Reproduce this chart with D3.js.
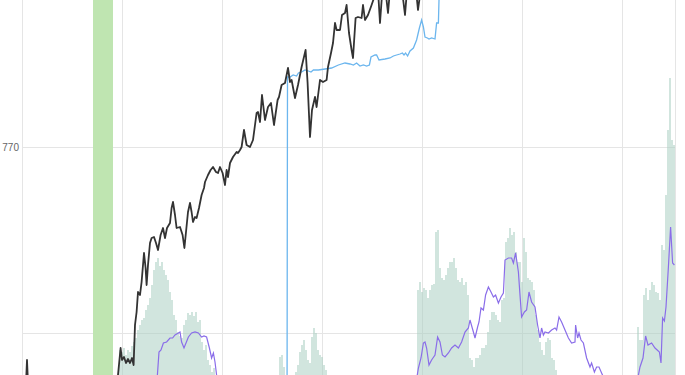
<!DOCTYPE html>
<html>
<head>
<meta charset="utf-8">
<script src="https://cdn.jsdelivr.net/npm/d3@7"></script>
<style>
  html, body { margin: 0; padding: 0; background: #fff; }
  svg { display: block; font-family: "Liberation Sans", Arial, sans-serif; }
</style>
</head>
<body>
<svg id="chart" width="685" height="375"></svg>
<script>
// x values are trading-day indexes

// closing price [day, price]
const priceLine = [
  [-11,640],[1.5,640],[2.5,663.5],[3.5,640],[47,640],[48,656],[49.3,669.5],[50,663.5],[51,665],[52,662],
  [53,664],[54,662],[55,664.5],[55.8,661],[56.5,681],[57.3,687.5],[58,697.5],[59,696],[59.8,702.5],[61,717],
  [61.8,709.5],[62.3,701],[63,711],[64,722],[64.8,724.5],[66,725],[67,722],[68,718.5],[69.3,726],[70.5,729.5],
  [71.5,724.5],[72.5,729.5],[74,732],[74.8,739.5],[75.5,742.5],[76.5,736],[77.3,729.5],[79,730],[80.3,726],
  [81.2,719.5],[82,727.5],[83,737.5],[84,742],[84.8,737.5],[85.5,732.5],[86.5,735],[87.3,734.5],[88.5,739.5],
  [89.8,746],[91,749.5],[91.5,752.5],[93,756],[94.3,758.5],[95.5,760],[97,757.5],[98,757],[99,760],[100.3,757],
  [101.5,751],[102.3,758.5],[103,755],[104,762],[105.5,765],[107.3,767.5],[108,767],[109,768.5],[109.8,770],
  [111,778.5],[112.3,771],[114,770],[115.5,773.5],[117.3,787],[118,787.5],[119,782.5],[120,796],[121.5,783.5],
  [123,790],[124.5,792],[126,781],[127.8,793.5],[128.5,795],[129.8,801],[131.5,802],[133,809.5],[134,802.5],
  [134.8,803.5],[136.5,794.5],[138,801],[139.8,810],[141.8,818.5],[142.8,802],[144,775],[145,788.5],[146.5,795],
  [147.3,790],[149,803.5],[150.5,802.5],[152.3,803.5],[153,810],[154.5,817],[155.5,822],[156.5,832],[157.3,828.5],
  [159,828.5],[160,836],[161.5,837],[162.3,841],[163.5,827],[164.8,818.5],[165.5,814.5],[166.8,834.5],[168,835],
  [169.8,834.5],[170.5,841],[171.5,833.5],[173,836],[174.8,841],[176.5,846],[178,848.5],[179,832],[180,846],
  [182,846],[183,837],[184,848.5],[190,848.5],[191.5,836],[192.5,848.5],[197,848.5],[198,838.5],[199,846]
];

// running high [day, price]
const highLine = [
  [132.5,630],[132.75,805],[134,805],[135.6,806],[137.3,805.5],[138.2,807],[139.8,807.5],[141.5,808.5],
  [143.2,808],[144.5,807.5],[145.7,808.5],[148.2,808.5],[151.5,809],[154.8,809.5],[158.2,811],[161.5,812],
  [164,811.5],[165.7,811],[167.3,812],[169,810.5],[170.7,811],[172.3,810.5],[173.7,811],[174.5,815],[176.5,816],
  [177.3,816],[178.5,813.5],[181.5,814],[184,814.5],[185.7,815.5],[187.3,816],[189,816.5],[190.2,817],[191,816],
  [191.8,817],[192.8,815.5],[194,818],[195.7,819.5],[197.3,823.5],[198.7,829.5],[199.8,833.5],[200.7,830],
  [201.5,825],[202.7,824.5],[203.5,824],[204.8,824.5],[206.5,824],[207.3,832],[208.2,832],[208.5,843.5],[209,858.5]
];

// oscillator [day, value]
const oscLine = [
  [64,-20],[67.7,25],[68.5,48],[69.5,50],[70.7,57],[72.3,58],[74,62],[75.3,62],[76.5,65],[78.2,67],[79,68],
  [79.8,58],[81,52],[82,57],[83.2,63],[84.8,67],[86.5,68],[88.2,67],[89.8,63],[91,64],[92.3,63],[93.7,52],
  [94.8,42],[95.7,47],[96.5,38],[97.3,25],[99,-20],
  [194,-20],[198.2,32],[199.5,42],[200.7,57],[201.5,58],[202.3,52],[203.5,35],[204.8,40],[206.5,45],[207.8,63],
  [209,58],[210.2,45],[211.5,43],[213.2,47],[214.8,52],[216.5,55],[218.2,52],[219.8,58],[221.5,68],[223.2,72],
  [224,80],[225.7,68],[226.5,62],[227.8,73],[228.5,78],[229.5,92],[230.7,90],[231.8,105],[233.2,113],[234.5,108],
  [235.7,103],[236.8,105],[238.2,97],[239.5,103],[240.7,107],[241.5,140],[243.2,142],[244.8,142],[245.7,137],
  [246.8,147],[248.2,128],[249,105],[249.8,83],[251.2,88],[252.3,90],[253.5,108],[254.8,98],[256.5,93],
  [257.8,75],[259,62],[259.8,72],[260.7,65],[261.5,68],[263.2,67],[264.8,70],[266.5,72],[267.3,70],[268.5,83],
  [269.8,78],[271.5,70],[273.2,62],[274.8,57],[276.5,58],[276.8,75],[277.8,62],[278.5,67],[279.5,60],[280.7,57],
  [282.3,42],[284,33],[284.8,37],[286.2,28],[287.3,33],[288.5,33],[289.8,27],[290.7,23],[293,-20],
  [304,-20],[308.2,25],[309,33],[310.5,42],[311.8,64],[313,55],[314.8,57],[316.5,52],[318.7,48],[319.5,37],
  [320.3,82],[321.2,79],[322,93],[323.2,133],[324.3,173],[325.3,137],[326.2,135]
];

// daily volume, one value per day from the start day
const volStart1 = 49;
const volume1 = [33,31,35,28,33,31,37,41,45,53,58,63,65,73,78,85,98,113,121,125,117,121,113,108,103,91,83,68,63,
  51,47,45,58,63,70,68,71,67,71,61,63,41,33,38,23,18,11,15,8];
const volStart2 = 129;
const volume2 = [26,28,16,8,0,0,0,0,11,18,31,38,43,33,23,20,46,55,50,33,28,26,18,13];
const volStart3 = 198;
const volume3 = [93,101,91,95,93,85,93,98,99,151,153,115,105,103,108,115,121,121,125,115,103,101,105,98,101,88,
  25,23,16,25,25,28,35,35,38,51,63,71,71,68,63,61,83,85,141,145,155,148,151,131,121,121,101,145,131,105,103,101,
  93,68,53,41,33,28,41,45,43,25,23,13,8];
const volStart4 = 308;
const volume4 = [56,43,43,88,95,83,93,101,98,91,90,83,138,133,188,253,305,243,238];

// shaded period [first day, last day]
const highlightDays = [36, 45];

const priceTicks = [770];
const volumeTicks = [50];
const dayTicks = [0, 50, 100, 150, 200, 250, 300];

const width = 685, height = 375;
const left = 22, right = 675;

const svg = d3.select('#chart');

const x = d3.scaleLinear().domain([0, 300]).range([left, 622]);
const yPrice = d3.scaleLinear().domain([656, 843.5]).range([height, 0]);
const yVol = d3.scaleLinear().domain([0, 383]).range([383, 0]);
const yOsc = d3.scaleLinear().domain([0, 400]).range([400, 0]);

svg.append('defs').append('clipPath').attr('id', 'plot')
  .append('rect').attr('x', left).attr('y', 0).attr('width', right - left).attr('height', height);

// grid
const grid = svg.append('g').attr('stroke', '#e5e5e5').attr('stroke-width', 1);
grid.selectAll('line.v').data(dayTicks.map(x).concat([right]))
  .join('line').attr('class', 'v')
  .attr('x1', d => Math.round(d) + 0.5).attr('x2', d => Math.round(d) + 0.5)
  .attr('y1', 0).attr('y2', height);
grid.selectAll('line.h').data(priceTicks.map(yPrice).concat(volumeTicks.map(yVol)))
  .join('line').attr('class', 'h')
  .attr('x1', left).attr('x2', right)
  .attr('y1', d => Math.round(d) + 0.5).attr('y2', d => Math.round(d) + 0.5);

svg.append('g').selectAll('text').data(priceTicks).join('text')
  .attr('x', 19).attr('y', d => yPrice(d)).attr('dy', '0.35em')
  .attr('text-anchor', 'end').attr('font-size', 10).attr('fill', '#666')
  .text(d => d);

const plot = svg.append('g').attr('clip-path', 'url(#plot)');

// highlighted period
plot.append('rect')
  .attr('x', x(highlightDays[0] - 0.5))
  .attr('width', x(highlightDays[1] + 0.5) - x(highlightDays[0] - 0.5))
  .attr('y', 0).attr('height', height)
  .attr('fill', '#bfe5b1');

// volume bars
const volData = [];
[[volStart1, volume1], [volStart2, volume2], [volStart3, volume3], [volStart4, volume4]].forEach(([s, arr]) => {
  arr.forEach((v, i) => volData.push({ day: s + i, v }));
});
const barW = (x(1) - x(0)) * 0.85;
plot.append('g').attr('fill', '#a9cfc1').attr('fill-opacity', 0.62)
  .selectAll('rect').data(volData.filter(d => d.v > 0)).join('rect')
  .attr('x', d => x(d.day) - barW / 2).attr('width', barW)
  .attr('y', d => yVol(d.v)).attr('height', d => yVol(0) - yVol(d.v));

const line = (ys) => d3.line().x(d => x(d[0])).y(d => ys(d[1]));

plot.append('path').datum(oscLine)
  .attr('fill', 'none').attr('stroke', '#8a6de9').attr('stroke-width', 1.2)
  .attr('d', line(yOsc));

plot.append('path').datum(highLine)
  .attr('fill', 'none').attr('stroke', '#6cb6ee').attr('stroke-width', 1.3)
  .attr('d', line(yPrice));

plot.append('path').datum(priceLine)
  .attr('fill', 'none').attr('stroke', '#333').attr('stroke-width', 1.8)
  .attr('stroke-linejoin', 'round')
  .attr('d', line(yPrice));
</script>
</body>
</html>
